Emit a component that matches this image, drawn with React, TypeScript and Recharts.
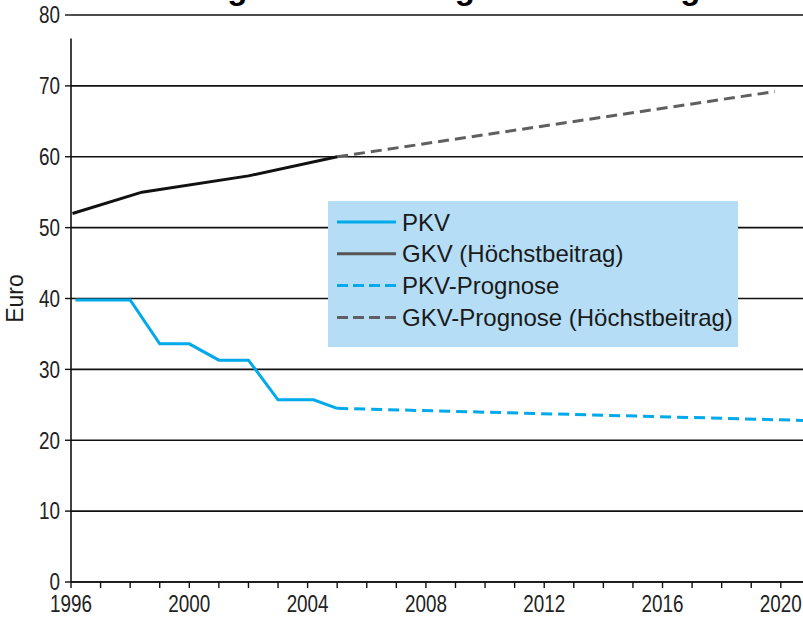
import { CartesianGrid, Label, Legend, Line, LineChart, ReferenceLine, XAxis, YAxis } from "recharts";

// Title is cropped at the top edge of the picture; only its descenders show.
const TITLE = "Belastungen in der Pflegeversicherung";
const Y_LABEL = "Euro";

// PKV (private) monthly premium, actual
const pkvYears = [1996.15, 1998, 1999, 2000, 2001, 2002, 2003, 2004.2, 2005];
const pkvValues = [39.8, 39.8, 33.6, 33.6, 31.3, 31.3, 25.7, 25.7, 24.5];

// GKV maximum contribution, actual
const gkvYears = [1996.05, 1998.4, 2002, 2005];
const gkvValues = [52.0, 55.0, 57.3, 60.0];

// forecasts
const pkvForecastYears = [2005, 2020.75];
const pkvForecastValues = [24.5, 22.8];
const gkvForecastYears = [2005, 2019.8];
const gkvForecastValues = [60.0, 69.2];

const seriesNames = ["PKV", "GKV (Höchstbeitrag)", "PKV-Prognose", "GKV-Prognose (Höchstbeitrag)"];

const yearTicks = [
  1996, 1997, 1998, 1999, 2000, 2001, 2002, 2003, 2004, 2005, 2006, 2007, 2008,
  2009, 2010, 2011, 2012, 2013, 2014, 2015, 2016, 2017, 2018, 2019, 2020,
];
const yearLabels = [1996, 2000, 2004, 2008, 2012, 2016, 2020];
const euroTicks = [0, 10, 20, 30, 40, 50, 60, 70, 80];

const toPoints = (xs: number[], ys: number[]) => xs.map((year, i) => ({ year, value: ys[i] }));

const pkv = toPoints(pkvYears, pkvValues);
const gkv = toPoints(gkvYears, gkvValues);
const pkvForecast = toPoints(pkvForecastYears, pkvForecastValues);
const gkvForecast = toPoints(gkvForecastYears, gkvForecastValues);

const BLUE = "#00a9ea";
const BLACK = "#111111";
const GREY = "#5f5f5f";
const AXIS = "#111111";
const TEXT_FONT = "'Liberation Sans', Arial, sans-serif";
const TICK_SIZE = 23;
const SQUEEZE = 0.82; // tick digits in the original are a condensed face

const legendStyles = [
  { color: BLUE, dash: undefined },
  { color: "#555555", dash: undefined },
  { color: BLUE, dash: "11 5" },
  { color: GREY, dash: "11 5" },
];

const squeeze = (x: number) => `translate(${x},0) scale(${SQUEEZE},1) translate(${-x},0)`;

const YearTick = (props: any) => {
  const { x, y, payload } = props;
  if (!yearLabels.includes(payload.value)) return null;
  return (
    <text
      x={x}
      y={y}
      dy="0.71em"
      textAnchor="middle"
      transform={squeeze(x)}
      fontSize={TICK_SIZE}
      fontFamily={TEXT_FONT}
      fill="#222"
    >
      {payload.value}
    </text>
  );
};

const EuroTick = (props: any) => {
  const { x, y, payload } = props;
  return (
    <text
      x={x}
      y={y}
      dy="0.36em"
      textAnchor="end"
      transform={squeeze(x)}
      fontSize={TICK_SIZE}
      fontFamily={TEXT_FONT}
      fill="#222"
    >
      {payload.value}
    </text>
  );
};

const renderLegend = () => (
  <svg width={410} height={146} style={{ display: "block" }}>
    <rect width={410} height={146} fill="#b5ddf5" />
    {seriesNames.map((name, i) => {
      const cy = 21 + i * 31.8;
      return (
        <g key={name}>
          <line
            x1={9}
            x2={68}
            y1={cy}
            y2={cy}
            stroke={legendStyles[i].color}
            strokeWidth={3}
            strokeDasharray={legendStyles[i].dash}
          />
          <text x={74} y={cy + 8.5} fontSize={24} fontFamily={TEXT_FONT} fill="#1a1a1a">
            {name}
          </text>
        </g>
      );
    })}
  </svg>
);

const renderYLabel = (props: any) => {
  const vb = props.viewBox || { x: 0, y: 15, width: 71, height: 567 };
  const x = vb.x + 23;
  const y = vb.y + vb.height / 2;
  return (
    <text
      x={x}
      y={y}
      transform={`rotate(-90, ${x}, ${y})`}
      textAnchor="middle"
      fontSize={23}
      fontFamily={TEXT_FONT}
      fill="#1a1a1a"
    >
      {Y_LABEL}
    </text>
  );
};

export default function App() {
  return (
    <div style={{ position: "absolute", left: 0, top: 0, width: 803, height: 618, background: "#fff" }}>
      <LineChart width={803} height={618} margin={{ top: 15, right: 0, bottom: 6, left: 0 }}>
        <CartesianGrid horizontal vertical={false} stroke={AXIS} strokeWidth={1.6} />
        <XAxis
          dataKey="year"
          type="number"
          domain={[1996, 2020.75]}
          ticks={yearTicks}
          interval={0}
          allowDataOverflow
          height={30}
          tickSize={6}
          tickMargin={8}
          axisLine={{ stroke: AXIS, strokeWidth: 1.6 }}
          tickLine={{ stroke: AXIS, strokeWidth: 1.4 }}
          tick={<YearTick />}
        />
        <YAxis
          type="number"
          domain={[0, 80]}
          ticks={euroTicks}
          interval={0}
          width={71}
          tickSize={6}
          tickMargin={5}
          axisLine={false}
          tickLine={{ stroke: AXIS, strokeWidth: 1.4 }}
          tick={<EuroTick />}
        >
          <Label content={renderYLabel} />
        </YAxis>
        <ReferenceLine
          segment={[
            { x: 1996, y: 0 },
            { x: 1996, y: 76.7 },
          ]}
          stroke={AXIS}
          strokeWidth={1.6}
        />
        <Legend
          layout="horizontal"
          verticalAlign="middle"
          align="center"
          content={renderLegend}
          wrapperStyle={{ left: 328, top: 201, width: 410, height: 146, margin: 0, padding: 0 }}
        />
        <Line
          data={pkvForecast}
          dataKey="value"
          name={seriesNames[2]}
          stroke={BLUE}
          strokeWidth={3}
          strokeDasharray="11 6"
          dot={false}
          activeDot={false}
          isAnimationActive={false}
        />
        <Line
          data={gkvForecast}
          dataKey="value"
          name={seriesNames[3]}
          stroke={GREY}
          strokeWidth={3}
          strokeDasharray="11 6"
          dot={false}
          activeDot={false}
          isAnimationActive={false}
        />
        <Line
          data={pkv}
          dataKey="value"
          name={seriesNames[0]}
          stroke={BLUE}
          strokeWidth={3}
          dot={false}
          activeDot={false}
          isAnimationActive={false}
        />
        <Line
          data={gkv}
          dataKey="value"
          name={seriesNames[1]}
          stroke={BLACK}
          strokeWidth={3}
          dot={false}
          activeDot={false}
          isAnimationActive={false}
        />
      </LineChart>
      <svg
        width={803}
        height={20}
        style={{ position: "absolute", left: 0, top: 0, pointerEvents: "none" }}
      >
        <text x={88} y={-1.5} fontSize={33} fontWeight="bold" fontFamily={TEXT_FONT} fill="#000">
          {TITLE}
        </text>
      </svg>
    </div>
  );
}
